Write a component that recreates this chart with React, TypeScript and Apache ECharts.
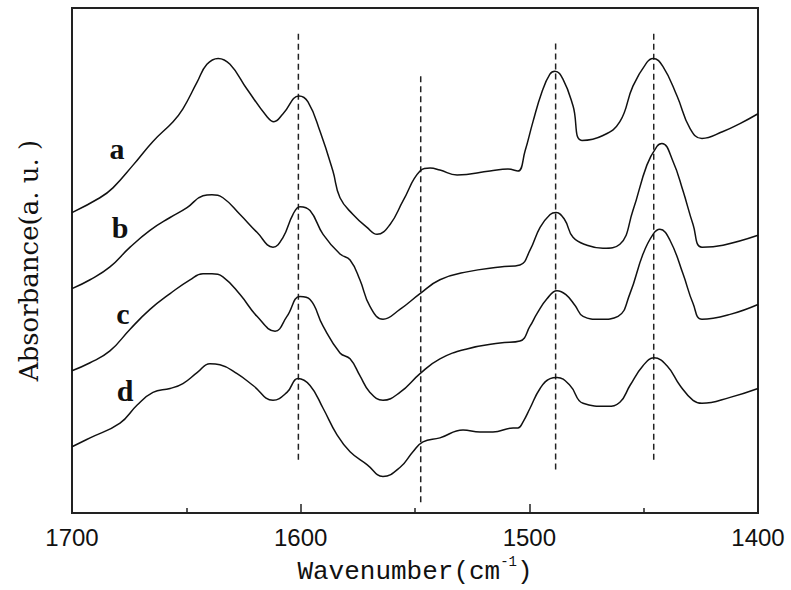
import React, { useEffect, useRef } from "react";
import * as echarts from "echarts";

// Wavenumbers (cm^-1) and relative absorbance (a.u., stacked offsets) per spectrum
const wnA = [1700, 1687.8, 1682.1, 1673.3, 1664.6, 1655.8, 1651.5, 1645.3, 1641.0, 1636.1, 1630.9, 1623.5, 1614.7, 1611.7, 1607.7, 1600.7, 1596.8, 1591.5, 1585.9, 1582.8, 1577.1, 1571.0, 1566.6, 1560.9, 1555.2, 1547.8, 1543.4, 1539.1, 1531.6, 1517.2, 1509.3, 1505.0, 1501.9, 1498.4, 1494.5, 1491.0, 1488.8, 1485.3, 1480.9, 1477.0, 1467.8, 1460.4, 1454.7, 1448.6, 1445.9, 1441.6, 1435.4, 1429.7, 1424.5, 1415.3, 1407.9, 1400];
const absA = [304, 319, 329, 352, 376, 396, 409, 436, 454, 460, 454, 429, 401, 396, 404, 422, 416, 386, 346, 319, 302, 289, 282, 292, 316, 346, 349, 347, 342, 346, 348, 346, 366, 396, 426, 444, 447, 439, 412, 377, 382, 396, 432, 456, 460, 452, 422, 389, 379, 386, 394, 404];

const wnB = [1700, 1692.1, 1683.4, 1674.6, 1665.9, 1657.1, 1649.7, 1642.7, 1638.8, 1634.0, 1626.5, 1619.1, 1612.1, 1607.7, 1603.4, 1600.3, 1595.9, 1590.2, 1582.8, 1578.4, 1574.1, 1569.7, 1564.0, 1556.6, 1547.8, 1539.1, 1527.3, 1512.8, 1504.1, 1499.7, 1495.3, 1490.9, 1488.3, 1484.6, 1480.9, 1474.8, 1467.8, 1460.4, 1454.7, 1448.6, 1444.2, 1442.0, 1437.2, 1432.8, 1428.4, 1424.5, 1415.3, 1400];
const absB = [227, 236, 249, 269, 286, 299, 309, 321, 322, 319, 302, 284, 269, 279, 302, 310, 306, 282, 262, 256, 236, 209, 196, 206, 222, 236, 244, 249, 251, 266, 289, 302, 304, 297, 279, 271, 268, 272, 306, 352, 371, 374, 356, 326, 292, 269, 271, 281];

const wnC = [1700, 1692.1, 1683.4, 1674.6, 1665.9, 1657.1, 1648.4, 1642.7, 1638.8, 1634.0, 1626.5, 1619.1, 1611.2, 1606.0, 1600.3, 1595.9, 1590.2, 1582.8, 1578.4, 1574.1, 1569.7, 1564.0, 1556.6, 1547.8, 1539.1, 1527.3, 1512.8, 1504.1, 1499.7, 1496.6, 1492.2, 1487.9, 1484.0, 1480.0, 1476.5, 1469.1, 1461.2, 1456.0, 1450.3, 1445.9, 1442.9, 1438.5, 1432.8, 1428.4, 1424.5, 1412.2, 1400];
const absC = [144, 152, 164, 186, 206, 222, 236, 242, 242, 239, 221, 199, 184, 199, 219, 216, 189, 162, 156, 139, 122, 114, 122, 141, 156, 166, 172, 174, 189, 202, 217, 225, 221, 210, 199, 196, 199, 222, 262, 282, 287, 276, 242, 212, 196, 201, 211];

const wnD = [1700, 1692.1, 1679.0, 1671.6, 1664.6, 1657.1, 1651.5, 1645.3, 1639.7, 1635.3, 1627.8, 1620.8, 1612.1, 1606.0, 1601.2, 1595.9, 1590.2, 1584.1, 1578.4, 1571.0, 1564.0, 1556.6, 1550.9, 1546.5, 1539.1, 1529.0, 1521.6, 1515.9, 1507.1, 1505.0, 1502.8, 1499.7, 1495.3, 1490.9, 1487.9, 1482.2, 1476.5, 1466.0, 1460.4, 1456.0, 1450.3, 1445.5, 1439.8, 1434.1, 1428.4, 1424.5, 1412.2, 1400];
const absD = [67, 76, 91, 109, 122, 126, 131, 142, 151, 150, 141, 129, 114, 122, 136, 129, 106, 79, 62, 49, 37, 46, 62, 72, 76, 84, 82, 82, 86, 86, 92, 106, 126, 136, 137, 129, 111, 108, 112, 129, 149, 157, 149, 129, 114, 111, 117, 126];

// Reference peak positions (dashed guide lines): wavenumber, top and bottom extent
const peakWn = [1601, 1547.5, 1488.5, 1445.6];
const peakTop = [487, 444, 477, 487];
const peakBottom = [54, 11, 44, 54];

const seriesNames = ["a", "b", "c", "d"];
const xTicks = [1700, 1600, 1500, 1400];

const zip = (xs: number[], ys: number[]) => xs.map((x, i) => [x, ys[i]]);

export default function App() {
  const ref = useRef<HTMLDivElement>(null);
  useEffect(() => {
    if (!ref.current) return;
    const chart = echarts.init(ref.current, null, { renderer: "svg" });
    const spectra = [zip(wnA, absA), zip(wnB, absB), zip(wnC, absC), zip(wnD, absD)];
    const lineSeries = spectra.map((d, i) => ({
      name: seriesNames[i],
      type: "line",
      data: d,
      smooth: 0.45,
      showSymbol: false,
      lineStyle: { color: "#111", width: 1.5 },
      z: 3,
    }));
    const dashSeries = peakWn.map((w, i) => ({
      name: "peak" + i,
      type: "line",
      data: [[w, peakBottom[i]], [w, peakTop[i]]],
      showSymbol: false,
      lineStyle: { color: "#222", width: 1.5, type: [6, 4] },
      z: 2,
    }));
    const labelPos = [[117, 148], [120, 227], [123, 313], [125, 390]];
    chart.setOption({
      animation: false,
      backgroundColor: "#fff",
      grid: {
        left: 72,
        right: 33,
        top: 8,
        bottom: 71,
        show: true,
        borderColor: "#222",
        borderWidth: 2,
        backgroundColor: "transparent",
      },
      xAxis: {
        type: "value",
        min: 1400,
        max: 1700,
        interval: 100,
        inverse: true,
        axisLine: { show: true, lineStyle: { color: "#222", width: 2 } },
        axisTick: { show: true, inside: true, length: 9, lineStyle: { color: "#222", width: 1.5 } },
        minorTick: { show: true, splitNumber: 2, length: 5, lineStyle: { color: "#222", width: 1.5 } },
        splitLine: { show: false },
        axisLabel: {
          color: "#111",
          fontFamily: "'Liberation Sans', Arial, sans-serif",
          fontSize: 24,
          margin: 12,
          formatter: (v: number) => (xTicks.includes(v) ? String(v) : ""),
        },
        name: "{m|Wavenumber(cm}{s|-1}{m|)}",
        nameLocation: "middle",
        nameGap: 42,
        nameTextStyle: {
          rich: {
            m: { fontFamily: "'Liberation Mono', monospace", fontSize: 26, color: "#111", lineHeight: 30, verticalAlign: "bottom" },
            s: { fontFamily: "'Liberation Mono', monospace", fontSize: 14, color: "#111", lineHeight: 30, verticalAlign: "top" },
          },
        },
      },
      yAxis: {
        type: "value",
        min: 0,
        max: 511,
        axisLine: { show: true, lineStyle: { color: "#222", width: 2 } },
        axisTick: { show: false },
        axisLabel: { show: false },
        splitLine: { show: false },
        name: "Absorbance(a. u. )",
        nameLocation: "middle",
        nameGap: 30,
        nameTextStyle: { fontFamily: "'DejaVu Serif', serif", fontSize: 26, color: "#111" },
      },
      graphic: seriesNames.map((n, i) => ({
        type: "text",
        x: labelPos[i][0],
        y: labelPos[i][1],
        style: {
          text: n,
          fontFamily: "'Liberation Serif', 'Times New Roman', serif",
          fontWeight: "bold",
          fontSize: 30,
          fill: "#111",
          align: "center",
          verticalAlign: "middle",
        },
      })),
      series: [...lineSeries, ...dashSeries],
    });
    return () => chart.dispose();
  }, []);
  return <div ref={ref} style={{ position: "absolute", left: 0, top: 0, width: 791, height: 590 }} />;
}
